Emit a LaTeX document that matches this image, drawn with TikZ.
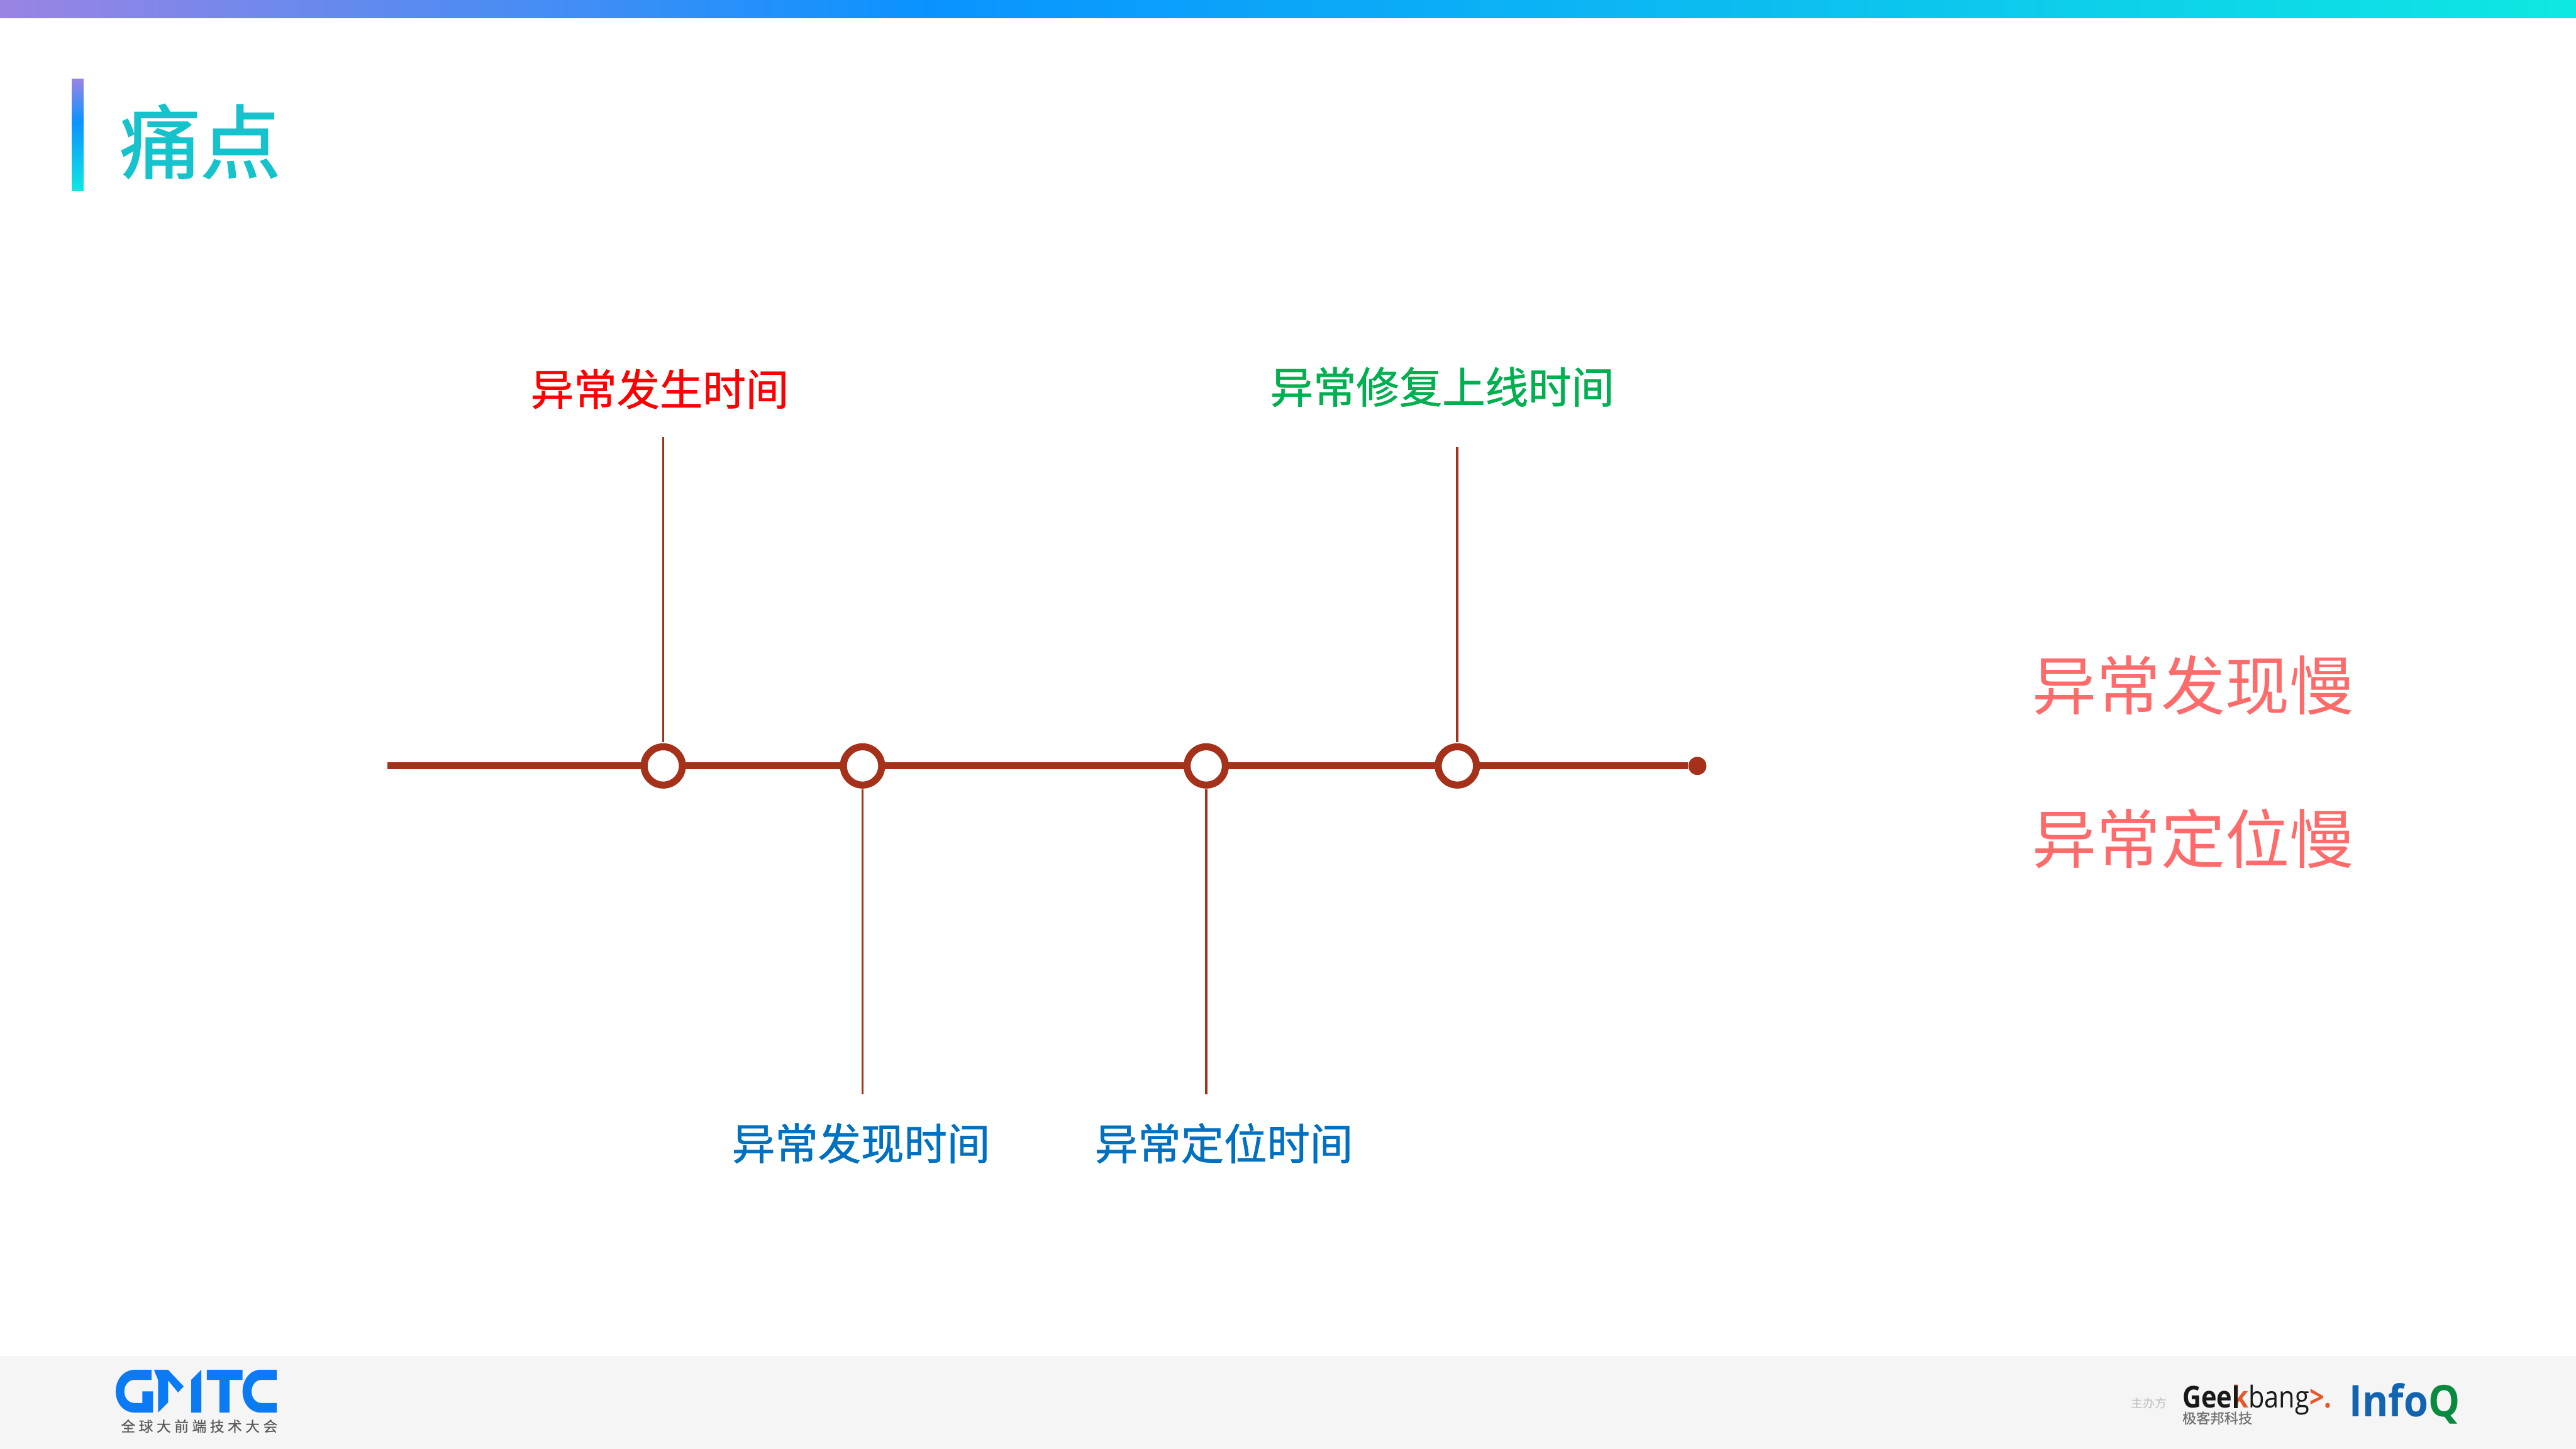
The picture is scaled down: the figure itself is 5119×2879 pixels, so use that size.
\documentclass[tikz,border=0pt]{standalone}
\usepackage{fontspec}
\setmainfont{Noto Sans CJK SC}
\newfontfamily\logocn[LetterSpace=24,FakeBold=0.4]{Noto Sans CJK SC}
\newfontfamily\logoen{Open Sans}
\newfontfamily\labelfont[FakeBold=1]{Noto Sans CJK SC}
\newfontfamily\titlefont[FakeBold=1.5]{Noto Sans CJK SC}

\definecolor{linered}{HTML}{A5311A}
\definecolor{titlecyan}{HTML}{16C3CC}
\definecolor{alarmred}{HTML}{FF0000}
\definecolor{fixgreen}{HTML}{00B050}
\definecolor{findblue}{HTML}{0070C0}
\definecolor{slowpink}{HTML}{FF6B6B}
\definecolor{gmtcblue}{HTML}{0B7BF5}
\definecolor{bangorange}{HTML}{E8562A}
\definecolor{infoblue}{HTML}{1263B0}
\definecolor{infogreen}{HTML}{0A8A3E}
\definecolor{bandpurple}{HTML}{9A84E4}
\definecolor{bandblue}{HTML}{0A93FF}
\definecolor{bandcyan}{HTML}{0EE8E2}

\pgfdeclarehorizontalshading{topband}{100bp}{
    color(0bp)=(bandpurple);
    color(25bp)=(bandpurple);
    color(43bp)=(bandblue);
    color(75bp)=(bandcyan);
    color(100bp)=(bandcyan)}
\pgfdeclareverticalshading{sideband}{100bp}{
    color(0bp)=(bandcyan);
    color(25bp)=(bandcyan);
    color(56bp)=(bandblue);
    color(75bp)=(bandpurple);
    color(100bp)=(bandpurple)}

\tikzset{
    stopdot/.style={circle,draw=linered,line width=0.14cm,fill=white,minimum size=0.76cm,inner sep=0pt},
    enddot/.style={circle,fill=linered,minimum size=0.36cm,inner sep=0pt},
    timelabel/.style={font=\labelfont\fontsize{24.3}{24.3}\selectfont,inner sep=0pt},
    slowlabel/.style={font=\fontsize{36.3}{36.3}\selectfont,text=slowpink,inner sep=0pt},
    timeline/.style={draw=linered,line width=0.14cm},
    stemline/.style={draw=linered,line width=0.045cm,shorten >=0.02cm},
    logotext/.style={inner sep=0pt}
}

\begin{document}
\begin{tikzpicture}[x=0.01cm,y=-0.01cm]
\useasboundingbox (0,0) rectangle (5119,2879);

%draw band at top, footer and title
    \fill[white] (0,0) rectangle (5119,2879);
    \shade[shading=topband] (0,0) rectangle (5119,35);
    \fill[black!4] (0,2695) rectangle (5119,2879);
    \shade[shading=sideband] (143,157) rectangle (166,379);
    \node[inner sep=0pt,text=titlecyan,font=\titlefont\fontsize{45.5}{45.5}\selectfont] (title) at (398,281) {痛点};

%draw horizontal line with stops
    \coordinate (linestart) at (770,1522);
    \node[enddot] (lineend) at (3373,1522) {};
    \draw[timeline] (linestart) -- (lineend);
    \foreach \name/\x in {occur/1318,find/1714,locate/2397,fix/2896}
    \node[stopdot] (\name) at (\x,1522) {};

%draw vertical lines
    \coordinate (occurtop) at (1318,868);
    \coordinate (fixtop) at (2896,888);
    \coordinate (findbottom) at (1714,2175);
    \coordinate (locatebottom) at (2397,2175);
    \draw[stemline] (occurtop) -- (occur);
    \draw[stemline] (fixtop) -- (fix);
    \draw[stemline] (findbottom) -- (find);
    \draw[stemline] (locatebottom) -- (locate);

%draw labels
    \node[timelabel,text=alarmred] (occurlabel) at (1311,773) {异常发生时间};
    \node[timelabel,text=fixgreen] (fixlabel) at (2866,769) {异常修复上线时间};
    \node[timelabel,text=findblue] (findlabel) at (1711,2272) {异常发现时间};
    \node[timelabel,text=findblue] (locatelabel) at (2432,2272) {异常定位时间};
    \node[slowlabel] (slowfind) at (4358,1362) {异常发现慢};
    \node[slowlabel] (slowlocate) at (4358,1666) {异常定位慢};

%draw left logo
    \fill[gmtcblue] (301,2722) -- (268,2722) .. controls (245,2722) and (230,2742) .. (230,2765)
        .. controls (230,2788) and (245,2807) .. (268,2807) -- (304,2807) -- (304,2765) -- (283,2765)
        -- (283,2788) -- (268,2788) .. controls (255,2788) and (247,2778) .. (247,2765)
        .. controls (247,2752) and (255,2742) .. (268,2742) -- (301,2742) -- cycle;
    \fill[gmtcblue] (306,2722) -- (334,2722) -- (365,2755) -- (354,2767) -- (334,2743)
        -- (334,2787) -- (314,2807) -- (314,2742) -- cycle;
    \fill[gmtcblue] (380,2742) -- (400,2722) -- (400,2807) -- (380,2807) -- cycle;
    \fill[gmtcblue] (411,2722) -- (482,2722) -- (482,2742) -- (456,2742) -- (456,2807) -- (436,2807)
        -- (436,2742) -- (411,2742) -- cycle;
    \fill[gmtcblue] (550,2722) -- (517,2722) .. controls (497,2722) and (482,2742) .. (482,2765)
        .. controls (482,2788) and (497,2807) .. (517,2807) -- (550,2807) -- (550,2788) -- (520,2788)
        .. controls (508,2788) and (500,2778) .. (500,2765) .. controls (500,2752) and (508,2742) .. (520,2742)
        -- (550,2742) -- cycle;
    \node[logotext,text=black!65,font=\logocn\fontsize{8.1}{8.1}\selectfont] (gmtcname) at (396,2834) {全球大前端技术大会};

%draw right logos
    \node[logotext,text=black!25,font=\fontsize{6.8}{6.8}\selectfont] (hostname) at (4270,2788) {主办方};
    \node[logotext,anchor=base west,xscale=0.87,transform shape,text=black!90,font=\logoen\fontsize{17}{17}\selectfont] (geekbang) at (4336,2798)
        {\textbf{Gee{\color{bangorange}k\llap{\color{black!90}\rule{.16em}{.76em}\hspace{.40em}}}}bang{\color{bangorange}\textbf{>.}}};
    \node[logotext,anchor=west,text=black!55,font=\labelfont\fontsize{7.9}{7.9}\selectfont] (geekname) at (4336,2818) {极客邦科技};
    \node[logotext,anchor=base west,xscale=0.91,transform shape,text=infoblue,font=\logoen\bfseries\fontsize{24.6}{24.6}\selectfont] (infoq) at (4668,2815)
        {Info{\color{infogreen}Q}};

\end{tikzpicture}
\end{document}
